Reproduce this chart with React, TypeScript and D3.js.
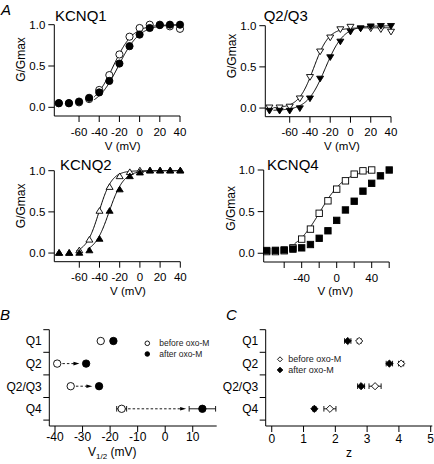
import React from "react";
import * as d3 from "d3";

const FONT = "Arial, 'Liberation Sans', Helvetica, sans-serif";

// ---------- Panel A data ----------
const voltsA = [-80, -70, -60, -50, -40, -30, -20, -10, 0, 10, 20, 30, 40];
const voltsQ4 = [-80, -70, -60, -50, -40, -30, -20, -10, 0, 10, 20, 30, 40, 50, 60];

const q1Before = [0.05, 0.05, 0.06, 0.10, 0.21, 0.39, 0.64, 0.855, 0.96, 1.0, 1.0, 0.98, 0.95];
const q1After = [0.05, 0.05, 0.07, 0.115, 0.18, 0.32, 0.53, 0.74, 0.88, 0.96, 0.995, 1.0, 1.0];

const q23Before = [0.01, 0.01, 0.02, 0.12, 0.38, 0.69, 0.86, 0.96, 0.99, 0.97, 0.97, 0.96, 0.93];
const q23After = [-0.03, -0.03, -0.03, 0.0, 0.12, 0.36, 0.62, 0.81, 0.93, 0.97, 0.995, 1.0, 1.0];

const q2Before = [0.0, 0.0, 0.03, 0.16, 0.51, 0.8, 0.93, 0.98, 1.0, 1.0, 1.0, 1.0, 1.0];
const q2After = [0.0, 0.0, 0.0, 0.03, 0.17, 0.51, 0.77, 0.93, 0.975, 1.0, 1.0, 1.0, 1.0];

const q4Before = [0.02, 0.02, 0.03, 0.065, 0.17, 0.29, 0.48, 0.63, 0.77, 0.87, 0.95, 0.99, 1.0];
const q4After = [0.033, 0.035, 0.04, 0.05, 0.065, 0.105, 0.18, 0.27, 0.395, 0.52, 0.625, 0.746, 0.84, 0.93, 1.0];

// Boltzmann fit parameters: [V1/2, k, min, max, vStart, vEnd]
const fitQ1Before = [-26, 9.8, 0, 1, -45, 40];
const fitQ1After = [-21, 10.5, 0, 1, -45, 40];
const fitQ23Before = [-36.3, 7.5, 0, 0.975, -76, 40];
const fitQ23After = [-24.8, 9, -0.03, 1.0, -76, 40];
const fitQ2Before = [-40.5, 6.4, 0, 1, -63, 40];
const fitQ2After = [-30.5, 7.2, 0, 1, -52, 40];
const fitQ4Before = [-19, 14.3, 0, 1, -48, 38];

const yTicksA = [0, 0.5, 1.0];
const yTickLabelsA = ["0.0", "0.5", "1.0"];
const xTicksA = [-60, -40, -20, 0, 20, 40];
const xTicksQ4 = [-60, -40, -20, 0, 20, 40, 60];
const xTickLabelsQ4 = ["", "-40", "", "0", "", "40", ""];

// ---------- Panel B / C data ----------
const groups = ["Q1", "Q2", "Q2/Q3", "Q4"];
const v12Before = [-23.4, -39.2, -34.3, -15.8];
const v12After = [-18.8, -28.7, -24.0, 13.5];
const v12BeforeErr = [0.8, 0.8, 0.8, 1.8];
const v12AfterErr = [0.8, 0.8, 0.8, 4.8];
const v12Arrow = [false, true, true, true];
const xTicksB = [-40, -30, -20, -10, 0, 10];

const zBefore = [2.75, 4.07, 3.25, 1.83];
const zAfter = [2.39, 3.70, 2.81, 1.34];
const zBeforeErr = [0.06, 0.08, 0.19, 0.19];
const zAfterErr = [0.1, 0.1, 0.11, 0.05];
const xTicksC = [0, 1, 2, 3, 4, 5];

type Shape = "circle" | "square" | "triUp" | "triDown" | "diamond";

function Marker({ shape, filled, cx, cy, s }: { shape: Shape; filled: boolean; cx: number; cy: number; s: number }) {
  const fill = filled ? "#000" : "#fff";
  const stroke = "#000";
  const sw = 0.9;
  if (shape === "circle") return <circle cx={cx} cy={cy} r={s} fill={fill} stroke={stroke} strokeWidth={sw} />;
  if (shape === "square")
    return <rect x={cx - s} y={cy - s} width={2 * s} height={2 * s} fill={fill} stroke={stroke} strokeWidth={sw} />;
  if (shape === "diamond")
    return (
      <polygon
        points={`${cx},${cy - s} ${cx + s},${cy} ${cx},${cy + s} ${cx - s},${cy}`}
        fill={fill}
        stroke={stroke}
        strokeWidth={sw}
      />
    );
  const h = s * 0.9;
  if (shape === "triUp")
    return (
      <polygon
        points={`${cx},${cy - h * 1.1} ${cx + s},${cy + h * 0.7} ${cx - s},${cy + h * 0.7}`}
        fill={fill}
        stroke={stroke}
        strokeWidth={sw}
      />
    );
  return (
    <polygon
      points={`${cx},${cy + h * 1.1} ${cx + s},${cy - h * 0.7} ${cx - s},${cy - h * 0.7}`}
      fill={fill}
      stroke={stroke}
      strokeWidth={sw}
    />
  );
}

type Series = { volts: number[]; values: number[]; shape: Shape; filled: boolean; s: number };

function PanelA(props: {
  left: number;
  right: number;
  vMin: number;
  vMax: number;
  yTop: number;
  yAxis: number;
  xTicks: number[];
  xTickLabels?: string[];
  title: string;
  titleX: number;
  titleY: number;
  yLabelX: number;
  yLabelY: number;
  xLabelX: number;
  xLabelY: number;
  series: Series[];
  fits: number[][];
}) {
  const x = d3.scaleLinear().domain([props.vMin, props.vMax]).range([props.left, props.right]);
  const y = d3.scaleLinear().domain([-0.105, 1]).range([props.yAxis, props.yTop]);
  const fitPath = (p: number[]) => {
    const [vh, k, mn, mx, a, b] = p;
    const vs = d3.range(a, b + 0.01, 0.5);
    return d3
      .line<number>()
      .x((v) => x(v))
      .y((v) => y(mn + (mx - mn) / (1 + Math.exp((vh - v) / k))))(vs) as string;
  };
  return (
    <g>
      <text x={props.titleX} y={props.titleY} fontSize={15} fontFamily={FONT}>
        {props.title}
      </text>
      <line x1={props.left} x2={props.left} y1={props.yTop} y2={props.yAxis} stroke="#000" strokeWidth={1} />
      <line x1={props.left} x2={props.right} y1={props.yAxis} y2={props.yAxis} stroke="#000" strokeWidth={1} />
      {yTicksA.map((t, i) => (
        <g key={"yt" + i}>
          <line x1={props.left - 6} x2={props.left} y1={y(t)} y2={y(t)} stroke="#000" strokeWidth={1} />
          <text x={props.left - 9} y={y(t) + 4.1} fontSize={11.5} textAnchor="end" fontFamily={FONT}>
            {yTickLabelsA[i]}
          </text>
        </g>
      ))}
      {props.xTicks.map((t, i) => (
        <g key={"xt" + i}>
          <line x1={x(t)} x2={x(t)} y1={props.yAxis} y2={props.yAxis + 6} stroke="#000" strokeWidth={1} />
          <text x={x(t)} y={props.yAxis + 19.5} fontSize={11.5} textAnchor="middle" fontFamily={FONT}>
            {props.xTickLabels ? props.xTickLabels[i] : String(t)}
          </text>
        </g>
      ))}
      <text
        transform={`translate(${props.yLabelX},${props.yLabelY}) rotate(-90)`}
        fontSize={12}
        textAnchor="middle"
        fontFamily={FONT}
      >
        G/Gmax
      </text>
      <text x={props.xLabelX} y={props.xLabelY} fontSize={11.5} textAnchor="middle" fontFamily={FONT}>
        V (mV)
      </text>
      {props.fits.map((f, i) => (
        <path key={"f" + i} d={fitPath(f)} fill="none" stroke="#000" strokeWidth={1} />
      ))}
      {props.series.map((s, si) => (
        <g key={"s" + si}>
          {s.values.map((v, i) => (
            <Marker key={i} shape={s.shape} filled={s.filled} cx={x(s.volts[i])} cy={y(v)} s={s.s} />
          ))}
        </g>
      ))}
    </g>
  );
}

function ErrBar({ x1, x2, y }: { x1: number; x2: number; y: number }) {
  return (
    <g stroke="#000" strokeWidth={0.9}>
      <line x1={x1} x2={x2} y1={y} y2={y} />
      <line x1={x1} x2={x1} y1={y - 2.8} y2={y + 2.8} />
      <line x1={x2} x2={x2} y1={y - 2.8} y2={y + 2.8} />
    </g>
  );
}

function PanelB() {
  const left = 49.3;
  const x = d3.scaleLinear().domain([-42.07, 18.7]).range([left, 216.7]);
  const yb = d3.scaleBand<string>().domain(groups).range([329.7, 420.1]);
  const axisY = 426;
  const r = 3.7;
  const bounds = [...groups.map((g) => yb(g) as number), 420.1];
  return (
    <g>
      <text x={0} y={320} fontSize={15} fontStyle="italic" fontFamily={FONT}>
        B
      </text>
      <line x1={left} x2={left} y1={329.7} y2={axisY} stroke="#000" />
      <line x1={left} x2={216.7} y1={axisY} y2={axisY} stroke="#000" />
      {bounds.map((b, i) => (
        <line key={"b" + i} x1={left - 6} x2={left} y1={b} y2={b} stroke="#000" />
      ))}
      {groups.map((g) => (
        <text
          key={g}
          x={left - 7.5}
          y={(yb(g) as number) + yb.bandwidth() / 2 + 4.3}
          fontSize={12}
          textAnchor="end"
          fontFamily={FONT}
        >
          {g}
        </text>
      ))}
      {xTicksB.map((t) => (
        <g key={"xt" + t}>
          <line x1={x(t)} x2={x(t)} y1={axisY} y2={axisY + 6} stroke="#000" />
          <text x={x(t)} y={441} fontSize={12} textAnchor="middle" fontFamily={FONT}>
            {String(t)}
          </text>
        </g>
      ))}
      <text x={88} y={455.5} fontSize={12} fontFamily={FONT}>
        V
        <tspan fontSize={8} dy={3}>
          1/2
        </tspan>
        <tspan dy={-3}> (mV)</tspan>
      </text>
      {groups.map((g, i) => {
        const cy = (yb(g) as number) + yb.bandwidth() / 2;
        const xb = x(v12Before[i]);
        const xa = x(v12After[i]);
        const eb = x(v12Before[i] + v12BeforeErr[i]) - xb;
        const ea = xa - x(v12After[i] - v12AfterErr[i]);
        const start = xb + Math.max(r, eb) + 1.5;
        const tip = xa - Math.max(r, ea) - 3;
        return (
          <g key={"d" + g}>
            {v12Arrow[i] && (
              <g>
                <line
                  x1={start}
                  x2={tip - 5}
                  y1={cy}
                  y2={cy}
                  stroke="#000"
                  strokeWidth={0.9}
                  strokeDasharray="2.5,2"
                />
                <polygon points={`${tip},${cy} ${tip - 6},${cy - 1.8} ${tip - 6},${cy + 1.8}`} fill="#000" />
              </g>
            )}
            <ErrBar x1={xb - eb} x2={xb + eb} y={cy} />
            <ErrBar x1={xa - ea} x2={xa + ea} y={cy} />
            <Marker shape="circle" filled={false} cx={xb} cy={cy} s={r} />
            <Marker shape="circle" filled={true} cx={xa} cy={cy} s={r} />
          </g>
        );
      })}
      <Marker shape="circle" filled={false} cx={147.3} cy={343.3} s={2.3} />
      <Marker shape="circle" filled={true} cx={147.3} cy={354} s={2.3} />
      <text x={159.3} y={346.3} fontSize={8.5} fontFamily={FONT} fill="#222">
        before oxo-M
      </text>
      <text x={159.3} y={357} fontSize={8.5} fontFamily={FONT} fill="#222">
        after oxo-M
      </text>
    </g>
  );
}

function PanelC() {
  const left = 265.7;
  const x = d3.scaleLinear().domain([-0.19, 5.05]).range([left, 432.3]);
  const yb = d3.scaleBand<string>().domain(groups).range([329.7, 420.1]);
  const axisY = 426;
  const s = 3.6;
  const bounds = [...groups.map((g) => yb(g) as number), 420.1];
  return (
    <g>
      <text x={226} y={320} fontSize={15} fontStyle="italic" fontFamily={FONT}>
        C
      </text>
      <line x1={left} x2={left} y1={329.7} y2={axisY} stroke="#000" />
      <line x1={left} x2={432.3} y1={axisY} y2={axisY} stroke="#000" />
      {bounds.map((b, i) => (
        <line key={"b" + i} x1={left - 6} x2={left} y1={b} y2={b} stroke="#000" />
      ))}
      {groups.map((g) => (
        <text
          key={g}
          x={left - 7.5}
          y={(yb(g) as number) + yb.bandwidth() / 2 + 4.3}
          fontSize={12}
          textAnchor="end"
          fontFamily={FONT}
        >
          {g}
        </text>
      ))}
      {xTicksC.map((t) => (
        <g key={"xt" + t}>
          <line x1={x(t)} x2={x(t)} y1={axisY} y2={axisY + 6} stroke="#000" />
          <text x={x(t)} y={443} fontSize={12} textAnchor="middle" fontFamily={FONT}>
            {String(t)}
          </text>
        </g>
      ))}
      <text x={349} y={457} fontSize={12} textAnchor="middle" fontFamily={FONT}>
        z
      </text>
      {groups.map((g, i) => {
        const cy = (yb(g) as number) + yb.bandwidth() / 2;
        const xb = x(zBefore[i]);
        const xa = x(zAfter[i]);
        const eb = x(zBefore[i] + zBeforeErr[i]) - xb;
        const ea = x(zAfter[i] + zAfterErr[i]) - xa;
        return (
          <g key={"d" + g}>
            <ErrBar x1={xb - eb} x2={xb + eb} y={cy} />
            <ErrBar x1={xa - ea} x2={xa + ea} y={cy} />
            <Marker shape="diamond" filled={false} cx={xb} cy={cy} s={s} />
            <Marker shape="diamond" filled={true} cx={xa} cy={cy} s={s} />
          </g>
        );
      })}
      <Marker shape="diamond" filled={false} cx={280} cy={359.3} s={2.5} />
      <Marker shape="diamond" filled={true} cx={280} cy={370} s={2.8} />
      <text x={288.3} y={362.3} fontSize={9} fontFamily={FONT} fill="#222">
        before oxo-M
      </text>
      <text x={288.3} y={373} fontSize={9} fontFamily={FONT} fill="#222">
        after oxo-M
      </text>
    </g>
  );
}

export default function App() {
  return (
    <svg
      width={434}
      height={464}
      viewBox="0 0 434 464"
      style={{ position: "absolute", left: 0, top: 0, background: "#fff" }}
    >
      <rect x={0} y={0} width={434} height={464} fill="#fff" />
      <text x={1} y={14.5} fontSize={15} fontStyle="italic" fontFamily={FONT}>
        A
      </text>
      <PanelA
        left={54.3}
        right={180}
        vMin={-84.5}
        vMax={40}
        yTop={24.7}
        yAxis={116}
        xTicks={xTicksA}
        title="KCNQ1"
        titleX={55}
        titleY={20.5}
        yLabelX={24.5}
        yLabelY={59.5}
        xLabelX={122.7}
        xLabelY={150}
        fits={[fitQ1Before, fitQ1After]}
        series={[
          { volts: voltsA, values: q1Before, shape: "circle", filled: false, s: 3.6 },
          { volts: voltsA, values: q1After, shape: "circle", filled: true, s: 3.6 },
        ]}
      />
      <PanelA
        left={265.3}
        right={391}
        vMin={-84.1}
        vMax={40}
        yTop={25.7}
        yAxis={116.7}
        xTicks={xTicksA}
        title="Q2/Q3"
        titleX={263.7}
        titleY={20.5}
        yLabelX={235.5}
        yLabelY={56}
        xLabelX={342}
        xLabelY={150}
        fits={[fitQ23Before, fitQ23After]}
        series={[
          { volts: voltsA, values: q23Before, shape: "triDown", filled: false, s: 3.5 },
          { volts: voltsA, values: q23After, shape: "triDown", filled: true, s: 3.5 },
        ]}
      />
      <PanelA
        left={54.3}
        right={180.3}
        vMin={-84.75}
        vMax={40}
        yTop={170.7}
        yAxis={261.7}
        xTicks={xTicksA}
        title="KCNQ2"
        titleX={60}
        titleY={169.5}
        yLabelX={24.5}
        yLabelY={205.8}
        xLabelX={128}
        xLabelY={294.5}
        fits={[fitQ2Before, fitQ2After]}
        series={[
          { volts: voltsA, values: q2Before, shape: "triUp", filled: false, s: 3.5 },
          { volts: voltsA, values: q2After, shape: "triUp", filled: true, s: 3.5 },
        ]}
      />
      <PanelA
        left={263.7}
        right={389.2}
        vMin={-83.4}
        vMax={60}
        yTop={170}
        yAxis={262}
        xTicks={xTicksQ4}
        xTickLabels={xTickLabelsQ4}
        title="KCNQ4"
        titleX={267}
        titleY={169.5}
        yLabelX={234.8}
        yLabelY={208.3}
        xLabelX={335.3}
        xLabelY={294.8}
        fits={[fitQ4Before]}
        series={[
          { volts: voltsA, values: q4Before, shape: "square", filled: false, s: 3.2 },
          { volts: voltsQ4, values: q4After, shape: "square", filled: true, s: 3.2 },
        ]}
      />
      <PanelB />
      <PanelC />
    </svg>
  );
}
